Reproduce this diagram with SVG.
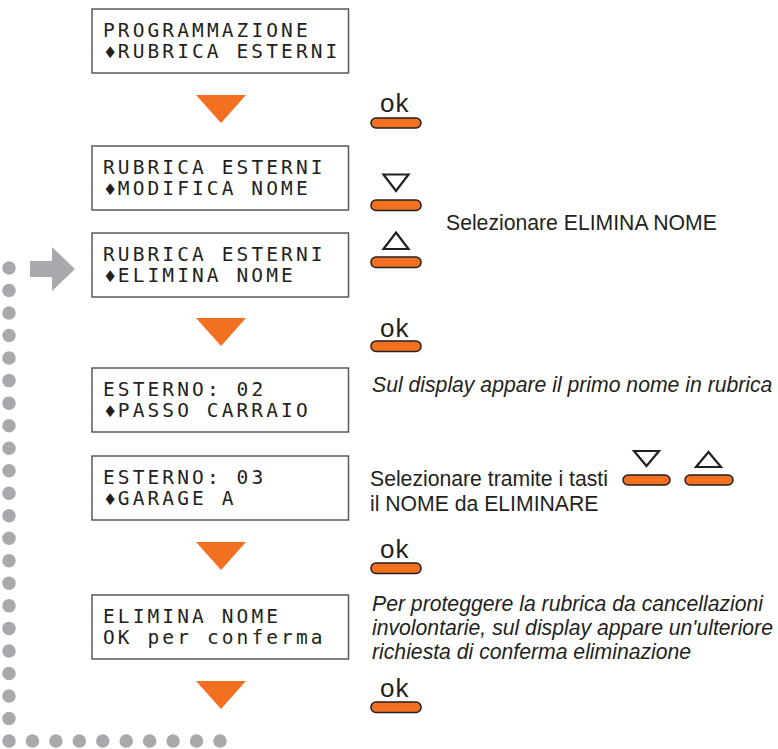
<svg xmlns="http://www.w3.org/2000/svg" width="778" height="749" viewBox="0 0 778 749">
<style>
.lcd{fill:#fff;stroke:#58595b;stroke-width:1.5}
.lt{font-family:"DejaVu Sans Mono",monospace;font-size:19.5px;letter-spacing:3.1px;fill:#231f20}
.ud{font-family:"DejaVu Sans",sans-serif;font-size:16px;fill:#231f20}
.tx{font-family:"Liberation Sans",Arial,sans-serif;font-size:21.2px;fill:#231f20}
.it{font-style:italic}
.ok{font-family:"Liberation Sans",Arial,sans-serif;font-size:26px;fill:#231f20;letter-spacing:1px}
.pill{fill:#f37021;stroke:#231f20;stroke-width:1.5}
.hol{fill:#fff;stroke:#231f20;stroke-width:2.2}
.flow{fill:#f37021}
.dots{fill:none;stroke:#a7a9ac;stroke-width:13.5;stroke-linecap:round}
.garrow{fill:#a7a9ac}
</style>
<g id="connectors">
<path class="dots" d="M9,268 V741" stroke-dasharray="0 22.524"/>
<path class="dots" d="M9,741 H220" stroke-dasharray="0 23.444"/>
<rect class="garrow" x="30" y="261" width="23" height="16"/>
<polygon class="garrow" points="52,247 75,269 52,291"/>
<polygon class="flow" points="196,95 246,95 221,123"/>
<polygon class="flow" points="196,318 246,318 221,346"/>
<polygon class="flow" points="196,542 246,542 221,570"/>
<polygon class="flow" points="196,681 246,681 221,709"/>
</g>
<g id="lcd1">
<rect class="lcd" x="92" y="9" width="256.5" height="64"/>
<text class="lt" x="103" y="37">PROGRAMMAZIONE</text>
<text class="ud" x="103" y="58">♦</text>
<text class="lt" x="117.8" y="58">RUBRICA ESTERNI</text>
</g>
<g id="lcd2">
<rect class="lcd" x="92" y="146" width="256.5" height="64"/>
<text class="lt" x="103" y="174">RUBRICA ESTERNI</text>
<text class="ud" x="103" y="195">♦</text>
<text class="lt" x="117.8" y="195">MODIFICA NOME</text>
</g>
<g id="lcd3">
<rect class="lcd" x="92" y="233" width="256.5" height="64"/>
<text class="lt" x="103" y="261">RUBRICA ESTERNI</text>
<text class="ud" x="103" y="282">♦</text>
<text class="lt" x="117.8" y="282">ELIMINA NOME</text>
</g>
<g id="lcd4">
<rect class="lcd" x="92" y="368" width="256.5" height="64"/>
<text class="lt" x="103" y="396">ESTERNO: 02</text>
<text class="ud" x="103" y="417">♦</text>
<text class="lt" x="117.8" y="417">PASSO CARRAIO</text>
</g>
<g id="lcd5">
<rect class="lcd" x="92" y="456" width="256.5" height="64"/>
<text class="lt" x="103" y="484">ESTERNO: 03</text>
<text class="ud" x="103" y="505">♦</text>
<text class="lt" x="117.8" y="505">GARAGE A</text>
</g>
<g id="lcd6">
<rect class="lcd" x="92" y="595" width="256.5" height="64"/>
<text class="lt" x="103" y="623">ELIMINA NOME</text>
<text class="lt" x="103" y="644">OK per conferma</text>
</g>
<g id="btn-ok1">
<text class="ok" x="380" y="112">ok</text>
<rect class="pill" x="371" y="118" width="50" height="10" rx="5"/>
</g>
<g id="btn-down">
<polygon class="hol" points="383.5,174.5 408.5,174.5 396,191"/>
<rect class="pill" x="371" y="200" width="50" height="10.5" rx="5"/>
</g>
<g id="btn-up">
<polygon class="hol" points="396,232.5 408.5,249 383.5,249"/>
<rect class="pill" x="371" y="257" width="50" height="10.5" rx="5"/>
</g>
<g id="note1"><text class="tx" x="446" y="230">Selezionare ELIMINA NOME</text></g>
<g id="btn-ok2">
<text class="ok" x="380" y="337">ok</text>
<rect class="pill" x="371" y="341" width="50" height="10.5" rx="5"/>
</g>
<g id="note2"><text class="tx it" x="372" y="392">Sul display appare il primo nome in rubrica</text></g>
<g id="note3">
<text class="tx" x="370" y="486">Selezionare tramite i tasti</text>
<text class="tx" x="370" y="511">il NOME da ELIMINARE</text>
<polygon class="hol" points="634,451 659,451 646.5,466"/>
<rect class="pill" x="623" y="475" width="47" height="10" rx="5"/>
<polygon class="hol" points="708.5,452 721,467 696,467"/>
<rect class="pill" x="685" y="475" width="48" height="10" rx="5"/>
</g>
<g id="btn-ok3">
<text class="ok" x="380" y="558">ok</text>
<rect class="pill" x="371" y="563" width="50" height="10.5" rx="5"/>
</g>
<g id="note4">
<text class="tx it" x="372" y="611">Per proteggere la rubrica da cancellazioni</text>
<text class="tx it" x="372" y="635">involontarie, sul display appare un'ulteriore</text>
<text class="tx it" x="372" y="659">richiesta di conferma eliminazione</text>
</g>
<g id="btn-ok4">
<text class="ok" x="380" y="697">ok</text>
<rect class="pill" x="371" y="702" width="50" height="10.5" rx="5"/>
</g>
</svg>
